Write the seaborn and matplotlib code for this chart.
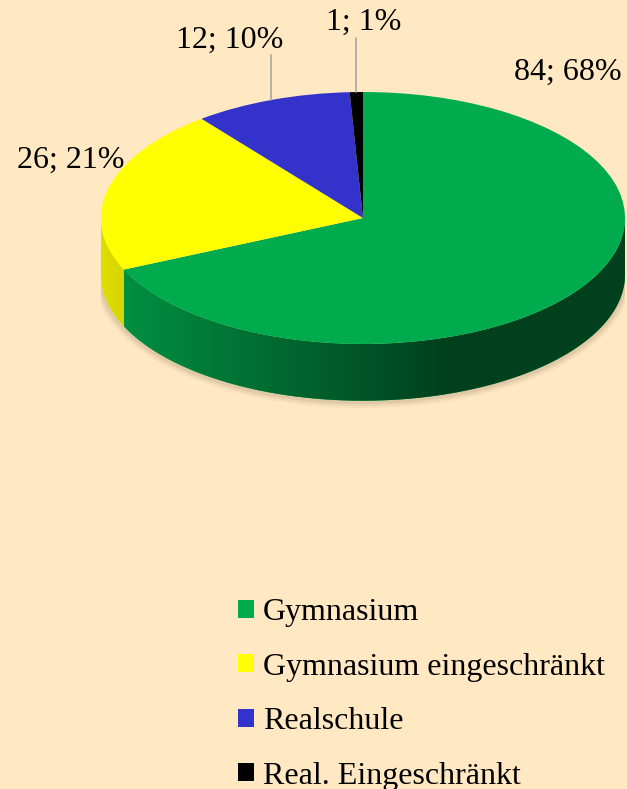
import numpy as np
import matplotlib
matplotlib.use('Agg')
import matplotlib.pyplot as plt
import matplotlib.colors as mcolors
import seaborn as sns

# data
###############################################################################
names = ['Gymnasium', 'Gymnasium eingeschränkt', 'Realschule', 'Real. Eingeschränkt']
counts = [84, 26, 12, 1]
colors = ['#00AB4E', '#FFFF00', '#3333CC', '#000000']
bg = '#FFE8C2'

sns.set_style('white')
plt.rcParams['font.family'] = ['Liberation Serif', 'DejaVu Serif']
plt.rcParams['text.color'] = 'black'

W, H = 627, 789
fig = plt.figure(figsize=(W / 100, H / 100), dpi=100, facecolor=bg)


def px(x, y, w, h):
    return [x / W, 1 - (y + h) / H, w / W, h / H]


# 3D-look pie
###############################################################################
depth = 0.45
extra = 0.2
cx, cy, rx, ry = 363, 218, 262, 126
ax = fig.add_axes(px(cx - rx, cy - ry, 2 * rx, ry * (2 + depth + extra)))
wedges, _ = ax.pie(counts, colors=colors, startangle=90, counterclock=False,
                   radius=1, wedgeprops=dict(linewidth=0))
ax.set_aspect('auto')
ax.axis('off')

# soft shadow under the rim
t = np.linspace(np.pi, 2 * np.pi, 200)
for lw, al in [(9, 0.05), (6, 0.07), (3, 0.10)]:
    ax.plot(np.cos(t) * 1.002, np.sin(t) - depth - 0.01, color='#6b5a45',
            lw=lw, alpha=al, zorder=-1, solid_capstyle='butt')

# side walls, shaded left -> right
xg = np.linspace(-1, 1, 400)
shade = np.interp(xg, [-1, 0.3, 1], [0.87, 0.38, 0.38])
for w, c in zip(wedges, colors):
    t1, t2 = w.theta1, w.theta2
    for k in (-1, 0, 1):
        a = max(t1, -180 + 360 * k)
        b = min(t2, 360 * k)
        if b <= a:
            continue
        angs = np.radians(np.linspace(a, b, 200))
        xs = np.concatenate([np.cos(angs), np.cos(angs[::-1])])
        ys = np.concatenate([np.sin(angs), np.sin(angs[::-1]) - depth])
        side = ax.fill(xs, ys, color=c, lw=0, zorder=0)[0]
        grad = np.array(mcolors.to_rgb(c))[None, None, :] * shade[None, :, None]
        im = ax.imshow(grad, extent=(-1, 1, -1 - depth, 0.05), aspect='auto',
                       interpolation='bilinear', zorder=0.5)
        im.set_clip_path(side)

ax.set_xlim(-1, 1)
ax.set_ylim(-1 - depth - extra, 1)

# labels
###############################################################################
ov = fig.add_axes([0, 0, 1, 1], zorder=3)
ov.set_xlim(0, W)
ov.set_ylim(H, 0)
ov.axis('off')
ov.patch.set_alpha(0)

total = sum(counts)
label_pos = [(568, 72), (71, 160), (230, 40), (364, 22)]
leader_top = [None, None, 55, 38]
for w, v, (lx, ly), lt in zip(wedges, counts, label_pos, leader_top):
    ov.text(lx, ly, f'{v}; {round(100 * v / total)}%', ha='center', va='center',
            fontsize=23)
    if lt is not None:
        mid = np.radians((w.theta1 + w.theta2) / 2)
        ex = cx + rx * np.cos(mid)
        ey = cy - ry * np.sin(mid)
        ov.plot([ex, ex], [lt, ey], color='#A6A6A6', lw=1.2)

# legend
###############################################################################
fig.legend(handles=wedges, labels=names, loc='upper left',
           bbox_to_anchor=(238 / W, 1 - 598 / H), frameon=False, fontsize=23,
           handlelength=0.5, handleheight=0.5, handletextpad=0.27,
           labelspacing=0.8, borderpad=0, borderaxespad=0)

fig.savefig('out.png', dpi=100, facecolor=bg)
